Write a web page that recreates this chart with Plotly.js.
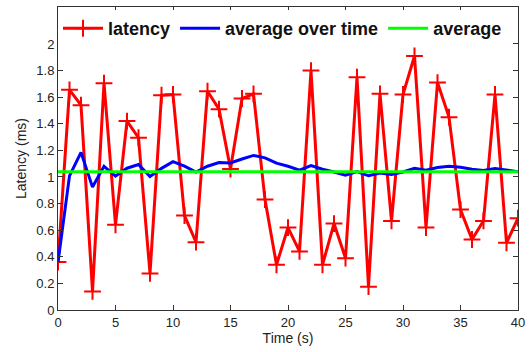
<!DOCTYPE html>
<html><head><meta charset="utf-8">
<script src="https://cdn.plot.ly/plotly-3.0.1.min.js"></script>
<style>body{margin:0;padding:0;background:#fff}#chart{width:530px;height:352px}</style>
</head><body><div id="chart"></div>
<script>
var timeS = [0,1,2,3,4,5,6,7,8,9,10,11,12,13,14,15,16,17,18,19,20,21,22,23,24,25,26,27,28,29,30,31,32,33,34,35,36,37,38,39,40];
var latency = [0.36,1.655,1.54,0.14,1.705,0.64,1.42,1.295,0.275,1.615,1.62,0.71,0.51,1.645,1.51,1.06,1.59,1.625,0.83,0.34,0.62,0.44,1.80,0.34,0.65,0.39,1.75,0.175,1.625,0.67,1.62,1.91,0.62,1.71,1.45,0.755,0.53,0.67,1.62,0.505,0.69];
var avgOverTime = [0.36,1.008,1.185,0.924,1.08,1.007,1.066,1.094,1.003,1.065,1.115,1.081,1.037,1.081,1.109,1.106,1.135,1.162,1.144,1.104,1.081,1.052,1.085,1.058,1.037,1.013,1.04,1.009,1.03,1.018,1.038,1.065,1.051,1.071,1.081,1.073,1.058,1.048,1.063,1.049,1.04];
var avgValue = [1.04,1.04];
var avgX = [0,40];

var data = [
  {x: timeS, y: latency, name: 'latency', mode: 'lines+markers', type: 'scatter',
   line: {color: '#ff0000', width: 3},
   marker: {symbol: 'cross-thin-open', size: 12, line: {color: '#ff0000', width: 2}}},
  {x: timeS, y: avgOverTime, name: 'average over time', mode: 'lines', type: 'scatter',
   line: {color: '#0000ff', width: 3}},
  {x: avgX, y: avgValue, name: 'average', mode: 'lines', type: 'scatter',
   line: {color: '#00ff00', width: 3}}
];

var axisCommon = {
  showgrid: false, zeroline: false, showline: true, linecolor: '#333333', linewidth: 1,
  mirror: 'allticks', ticks: 'inside', ticklen: 5, tickcolor: '#333333',
  tickfont: {family: 'Liberation Sans, Arial, sans-serif', size: 13, color: '#222'}
};

var layout = {
  width: 530, height: 352,
  margin: {l: 58, r: 12, t: 7, b: 42},
  paper_bgcolor: '#fff', plot_bgcolor: '#fff',
  showlegend: true,
  legend: {orientation: 'h', x: 0.0, y: 0.99, xanchor: 'left', yanchor: 'top',
    itemwidth: 40,
    bgcolor: 'rgba(255,255,255,1)', borderwidth: 0,
    font: {family: 'Liberation Sans, Arial, sans-serif', size: 18, color: '#111', weight: 'bold'}},
  xaxis: Object.assign({}, axisCommon, {range: [0, 40], tickvals: [0,5,10,15,20,25,30,35,40],
    title: {text: 'Time (s)', standoff: 2, font: {family: 'Liberation Sans, Arial, sans-serif', size: 14, color: '#222'}}}),
  yaxis: Object.assign({}, axisCommon, {range: [0, 2.278], tickvals: [0,0.2,0.4,0.6,0.8,1,1.2,1.4,1.6,1.8,2],
    ticktext: ['0','0.2','0.4','0.6','0.8','1','1.2','1.4','1.6','1.8','2'],
    title: {text: 'Latency (ms)', standoff: 6, font: {family: 'Liberation Sans, Arial, sans-serif', size: 14, color: '#222'}}})
};

Plotly.newPlot('chart', data, layout, {displayModeBar: false, staticPlot: true});
</script></body></html>
